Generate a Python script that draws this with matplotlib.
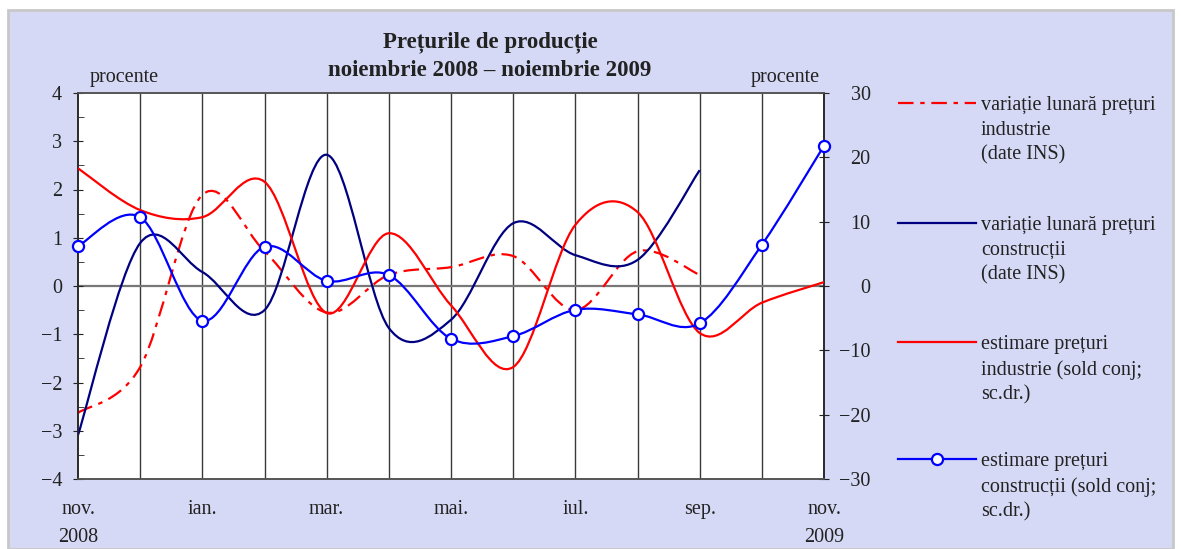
import numpy as np
import matplotlib
matplotlib.use("Agg")
import matplotlib.pyplot as plt
from matplotlib.path import Path
from matplotlib.patches import PathPatch, Rectangle
from matplotlib.lines import Line2D

plt.rcParams["font.family"] = ["Liberation Serif", "DejaVu Serif"]
plt.rcParams["axes.unicode_minus"] = True

# months nov 2008 .. nov 2009
months = list(range(13))
month_labels = ["nov.\n2008", "", "ian.", "", "mar.", "", "mai.", "", "iul.", "", "sep.", "", "nov.\n2009"]

# left axis (procente)
var_industrie = [-2.63, -1.68, 1.89, 0.72, -0.55, 0.23, 0.39, 0.62, -0.50, 0.72, 0.23]
var_constructii = [-3.09, 0.89, 0.29, -0.50, 2.72, -0.87, -0.70, 1.30, 0.64, 0.54, 2.40]
# right axis (sold conjunctural)
est_industrie = [18.3, 11.8, 10.7, 16.2, -4.2, 8.2, -3.0, -12.6, 9.5, 11.5, -7.3, -2.6, 0.6]
est_constructii = [6.2, 10.7, -5.4, 6.1, 0.8, 1.7, -8.2, -7.8, -3.7, -4.4, -5.8, 6.4, 21.8]

RED = "#ff0000"
NAVY = "#000080"
BLUE = "#0000ff"
BG = "#d5d9f5"
TXT = "#222222"
DASHDOT = (0, (7, 3, 2, 3))


def smooth_path(x, y):
    # bezier curve through the points (excel style smoothed line)
    x = np.asarray(x, float)
    y = np.asarray(y, float)
    n = len(x)
    verts = [(x[0], y[0])]
    codes = [Path.MOVETO]
    for i in range(n - 1):
        i0 = max(i - 1, 0)
        i3 = min(i + 2, n - 1)
        c1 = (x[i] + (x[i + 1] - x[i0]) / 6, y[i] + (y[i + 1] - y[i0]) / 6)
        c2 = (x[i + 1] - (x[i3] - x[i]) / 6, y[i + 1] - (y[i3] - y[i]) / 6)
        verts += [c1, c2, (x[i + 1], y[i + 1])]
        codes += [Path.CURVE4] * 3
    return Path(verts, codes)


def add_smooth(ax, x, y, color, ls="-", z=3):
    patch = PathPatch(smooth_path(x, y), fill=False, edgecolor=color, lw=1.6,
                      linestyle=ls, zorder=z, capstyle="butt")
    ax.add_patch(patch)


W, H = 1181, 549
fig = plt.figure(figsize=(W / 100, H / 100), dpi=100, facecolor="white")
fig.patches.append(Rectangle((8 / W, 0), 1165 / W, 539 / H, transform=fig.transFigure,
                             facecolor=BG, edgecolor="#c8c8c8", lw=2, zorder=-10))

ax = fig.add_axes([78 / W, 1 - 479 / H, 746 / W, 386 / H])
ax.set_facecolor("white")
ax2 = ax.twinx()

ax.set_xlim(0, 12)
ax.set_ylim(-4, 4)
ax2.set_ylim(-30, 30)

# grid
for m in months[1:-1]:
    ax.axvline(m, color="#3a3a3a", lw=1, zorder=1)
ax.axhline(0, color="#777777", lw=1.6, zorder=1)

# left axis series
add_smooth(ax, months[:len(var_industrie)], var_industrie, RED, ls=DASHDOT, z=4)
add_smooth(ax, months[:len(var_constructii)], var_constructii, NAVY, z=4)

# right axis series
add_smooth(ax2, months, est_industrie, RED)
add_smooth(ax2, months, est_constructii, BLUE)
ax2.plot(months, est_constructii, linestyle="none", marker="o",
         markersize=8, markerfacecolor="white", markeredgecolor=BLUE, mew=1.6,
         zorder=6, clip_on=False)

for a in (ax, ax2):
    for s in a.spines.values():
        s.set_color("#555555")
        s.set_linewidth(1.2)
ax2.spines["left"].set_color("#222222")
ax2.spines["right"].set_color("#222222")

fs = 14.5
ax.set_xticks(months, month_labels)
ax.tick_params(axis="x", length=0, pad=15, labelsize=fs, colors=TXT)
for t in ax.get_xticklabels():
    t.set_linespacing(1.65)
    t.set_verticalalignment("top")

ax.set_yticks(range(-4, 5))
ax.set_yticks(np.arange(-3.5, 4, 1), minor=True)
ax.tick_params(axis="y", which="major", direction="inout", length=7, pad=8,
               labelsize=fs, colors=TXT)
ax.tick_params(axis="y", which="minor", direction="in", length=4, colors=TXT)

ax2.set_yticks(range(-30, 31, 10))
ax2.tick_params(axis="y", direction="inout", length=7, pad=30, labelsize=fs,
                colors=TXT)
for t in ax2.get_yticklabels():
    t.set_horizontalalignment("right")

# titles
fig.text(490 / W, 1 - 42 / H, "Prețurile de producție", ha="center", va="center",
         fontsize=16.5, fontweight="bold", color=TXT)
fig.text(490 / W, 1 - 70 / H, "noiembrie 2008 – noiembrie 2009", ha="center",
         va="center", fontsize=16.5, fontweight="bold", color=TXT)
fig.text(90 / W, 1 - 78 / H, "procente", ha="left", va="center", fontsize=fs,
         color=TXT)
fig.text(820 / W, 1 - 78 / H, "procente", ha="right", va="center", fontsize=fs,
         color=TXT)

# legend
legend_items = [
    ("variație lunară prețuri\nindustrie\n(date INS)", RED, DASHDOT, None, 103),
    ("variație lunară prețuri\nconstrucții\n(date INS)", NAVY, "-", None, 223),
    ("estimare prețuri\nindustrie (sold conj;\nsc.dr.)", RED, "-", None, 342),
    ("estimare prețuri\nconstrucții (sold conj;\nsc.dr.)", BLUE, "-", "o", 459),
]
for label, color, ls, mk, ypx in legend_items:
    yf = 1 - ypx / H
    fig.add_artist(Line2D([898 / W, 976 / W], [yf, yf], transform=fig.transFigure,
                          color=color, lw=1.6, linestyle=ls))
    if mk:
        fig.add_artist(Line2D([937 / W], [yf], transform=fig.transFigure, marker="o",
                              markersize=8, markerfacecolor="white",
                              markeredgecolor=color, mew=1.6))
    fig.text(981 / W, 1 - (ypx - 7) / H, label, ha="left", va="top", fontsize=fs,
             color=TXT, linespacing=1.4)

fig.savefig("out.png", dpi=100, facecolor="white")
